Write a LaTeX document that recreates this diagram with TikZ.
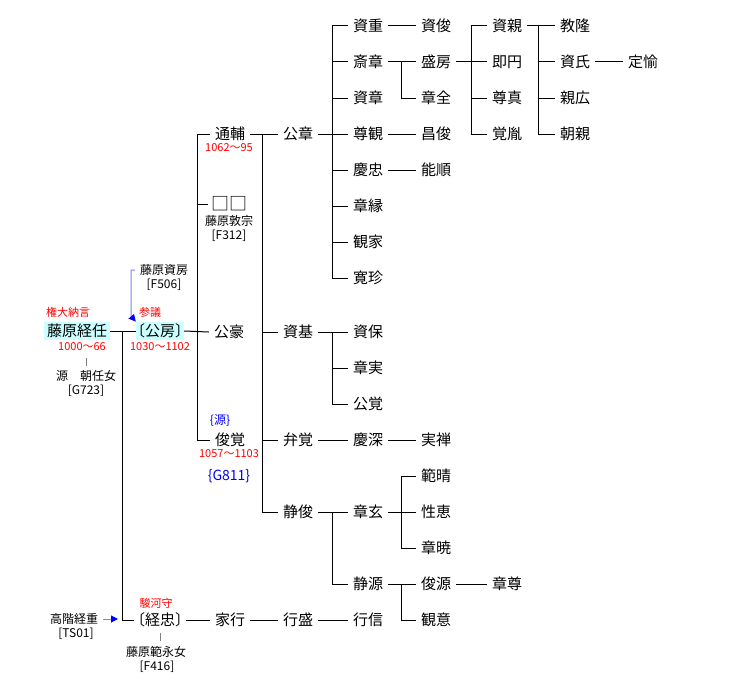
\documentclass[tikz,border=0pt]{standalone}
\usepackage{fontspec}
\setmainfont{Noto Sans CJK JP}
\usetikzlibrary{arrows.meta}
\definecolor{hicyan}{RGB}{204,255,255}
\definecolor{refblue}{RGB}{128,128,255}
\newcommand{\lbk}{\makebox[6pt][r]{〔}}
\newcommand{\rbk}{\makebox[6pt][l]{〕}}

\begin{document}
\begin{tikzpicture}[%
		x=1pt,y=-1pt,
		person/.style={inner xsep=5pt,inner ysep=2pt,font=\fontsize{15}{18}\selectfont},
		hilite/.style={person,fill=hicyan,inner xsep=3pt},
		memo/.style={inner sep=0pt,font=\fontsize{12}{14}\selectfont},
		redtext/.style={inner sep=0pt,text=red,font=\fontsize{11}{13}\selectfont},
		clan/.style={inner sep=0pt,text=blue,font=\fontsize{12}{14}\selectfont},
		link/.style={line width=1pt},
		wifeline/.style={gray,line width=1pt},
		ref/.style={refblue,line width=1pt,-{Triangle[length=7pt,width=7pt,blue]}}]
		\useasboundingbox (0,0) rectangle (747,693);
		% left part
		\node[redtext] (tsuneto-t) at (68,312) {権大納言};
		\node[hilite] (tsuneto) at (77,331) {藤原経任};
		\node[redtext] (tsuneto-y) at (82,347) {1000〜66};
		\node[memo] (tsuneto-w) at (86,376) {源　朝任女};
		\node[memo] (tsuneto-wf) at (86,391) {[G723]};
		\node[memo] (sukefusa) at (164,270) {藤原資房};
		\node[memo] (sukefusa-f) at (164,285) {[F506]};
		\node[redtext] (kinfusa-t) at (150,312) {参議};
		\node[hilite] (kinfusa) at (160,331) {\lbk 公房\rbk};
		\node[redtext] (kinfusa-y) at (160,347) {1030〜1102};
		\node[memo] (tsuneshige) at (74,619) {高階経重};
		\node[memo] (tsuneshige-f) at (76,634) {[TS01]};
		\node[redtext] (tsunetada-t) at (156,603) {駿河守};
		\node[person] (tsunetada) at (160,620) {\lbk 経忠\rbk};
		\node[memo] (tsunetada-w) at (156,652) {藤原範永女};
		\node[memo] (tsunetada-wf) at (157,667) {[F416]};
		% column 3
		\node[person] (michisuke) at (230,134) {通輔};
		\node[redtext] (michisuke-y) at (229,148) {1062〜95};
		\node[person,inner xsep=3pt,font=\fontsize{18}{18}\selectfont] (unknown) at (229,204) {□□};
		\node[memo] (unknown-f) at (229,221) {藤原敦宗};
		\node[memo] (unknown-ff) at (229,236) {[F312]};
		\node[person] (kogo) at (229,332) {公豪};
		\node[clan] (shunkaku-c) at (220,421) {\{源\}};
		\node[person] (shunkaku) at (230,440) {俊覚};
		\node[redtext] (shunkaku-y) at (229,454) {1057〜1103};
		\node[clan,font=\fontsize{14}{16}\selectfont] (shunkaku-g) at (229,476) {\{G811\}};
		\node[person] (ieyuki) at (230,620) {家行};
		% column 4
		\node[person] (kinaki) at (298,134) {公章};
		\node[person] (sukemoto) at (298,332) {資基};
		\node[person] (benkaku) at (298,440) {弁覚};
		\node[person] (seishun) at (298,512) {静俊};
		\node[person] (yukimori) at (298,620) {行盛};
		% column 5
		\node[person] (sukeshige) at (368,26) {資重};
		\node[person] (saisho) at (368,62) {斎章};
		\node[person] (sukeaki) at (368,98) {資章};
		\node[person] (sonkan) at (368,134) {尊観};
		\node[person] (keichu) at (368,170) {慶忠};
		\node[person] (shoen) at (368,206) {章縁};
		\node[person] (kanke) at (368,242) {観家};
		\node[person] (kanchin) at (368,278) {寛珍};
		\node[person] (sukeyasu) at (368,332) {資保};
		\node[person] (shojitsu) at (368,368) {章実};
		\node[person] (kokaku) at (368,404) {公覚};
		\node[person] (keishin) at (368,440) {慶深};
		\node[person] (shogen) at (368,512) {章玄};
		\node[person] (seigen) at (368,584) {静源};
		\node[person] (yukinobu) at (368,620) {行信};
		% column 6
		\node[person] (suketoshi) at (436,26) {資俊};
		\node[person] (morifusa) at (436,62) {盛房};
		\node[person] (shozen) at (436,98) {章全};
		\node[person] (shoshun) at (436,134) {昌俊};
		\node[person] (nojun) at (436,170) {能順};
		\node[person] (jitsuzen) at (436,440) {実禅};
		\node[person] (hansei) at (436,476) {範晴};
		\node[person] (shoe) at (436,512) {性恵};
		\node[person] (shogyo) at (436,548) {章暁};
		\node[person] (shungen) at (436,584) {俊源};
		\node[person] (kani) at (436,620) {観意};
		% column 7 to 9
		\node[person] (sukechika) at (507,26) {資親};
		\node[person] (sokuen) at (507,62) {即円};
		\node[person] (sonshin) at (507,98) {尊真};
		\node[person] (kakuin) at (507,134) {覚胤};
		\node[person] (shoson) at (507,584) {章尊};
		\node[person] (noritaka) at (575,26) {教隆};
		\node[person] (sukeuji) at (575,62) {資氏};
		\node[person] (chikahiro) at (575,98) {親広};
		\node[person] (tomochika) at (575,134) {朝親};
		\node[person] (joyu) at (643,62) {定愉};
		% vertical rails
		\coordinate (v1) at (122,0);
		\coordinate (v2) at (197,0);
		\coordinate (v3) at (262,0);
		\coordinate (v4) at (332,0);
		\coordinate (v5) at (401,0);
		\coordinate (v6) at (471,0);
		\coordinate (v7) at (538,0);
		\coordinate (sfbend) at (131,316);
		% lines
		\draw[link] (tsuneto.east) -- (kinfusa.west);
		\draw[link] (v1 |- tsuneto) -- (v1 |- tsunetada) -- (tsunetada.west);
		\draw[link] (kinfusa.east) -- (kogo.west);
		\draw[link] (v2 |- michisuke) -- (v2 |- shunkaku);
		\foreach \n in {michisuke,unknown,shunkaku}
			\draw[link] (v2 |- \n) -- (\n.west);
		\draw[link] (michisuke.east) -- (kinaki.west);
		\draw[link] (v3 |- kinaki) -- (v3 |- seishun);
		\foreach \n in {sukemoto,benkaku,seishun}
			\draw[link] (v3 |- \n) -- (\n.west);
		\draw[link] (kinaki.east) -- (sonkan.west);
		\draw[link] (v4 |- sukeshige) -- (v4 |- kanchin);
		\foreach \n in {sukeshige,saisho,sukeaki,keichu,shoen,kanke,kanchin}
			\draw[link] (v4 |- \n) -- (\n.west);
		\draw[link] (sukeshige.east) -- (suketoshi.west);
		\draw[link] (saisho.east) -- (morifusa.west);
		\draw[link] (v5 |- saisho) |- (shozen.west);
		\draw[link] (morifusa.east) -- (sokuen.west);
		\draw[link] (v6 |- sukechika) -- (v6 |- kakuin);
		\foreach \n in {sukechika,sonshin,kakuin}
			\draw[link] (v6 |- \n) -- (\n.west);
		\draw[link] (sukechika.east) -- (noritaka.west);
		\draw[link] (v7 |- sukechika) -- (v7 |- tomochika);
		\foreach \n in {sukeuji,chikahiro,tomochika}
			\draw[link] (v7 |- \n) -- (\n.west);
		\draw[link] (sukeuji.east) -- (joyu.west);
		\draw[link] (sonkan.east) -- (shoshun.west);
		\draw[link] (keichu.east) -- (nojun.west);
		\draw[link] (sukemoto.east) -- (sukeyasu.west);
		\draw[link] (v4 |- sukemoto) |- (kokaku.west);
		\draw[link] (v4 |- shojitsu) -- (shojitsu.west);
		\draw[link] (benkaku.east) -- (keishin.west);
		\draw[link] (keishin.east) -- (jitsuzen.west);
		\draw[link] (seishun.east) -- (shogen.west);
		\draw[link] (v4 |- seishun) |- (seigen.west);
		\draw[link] (shogen.east) -- (shoe.west);
		\draw[link] (v5 |- hansei) -- (v5 |- shogyo);
		\foreach \n in {hansei,shogyo}
			\draw[link] (v5 |- \n) -- (\n.west);
		\draw[link] (seigen.east) -- (shungen.west);
		\draw[link] (v5 |- seigen) |- (kani.west);
		\draw[link] (shungen.east) -- (shoson.west);
		\draw[link] (tsunetada.east) -- (ieyuki.west);
		\draw[link] (ieyuki.east) -- (yukimori.west);
		\draw[link] (yukimori.east) -- (yukinobu.west);
		% wives and adoptions
		\draw[wifeline] ([yshift=4pt]tsuneto-w.north) -- ++(0,-8);
		\draw[wifeline] ([yshift=-4pt]tsunetada.south) -- ++(0,8);
		\draw[ref] ([xshift=-5pt]sukefusa.west) -| (sfbend) -- (kinfusa.north west);
		\draw[ref] ([xshift=5pt]tsuneshige.east) -- ([xshift=-4pt]v1 |- tsuneshige);
	\end{tikzpicture}
\end{document}
